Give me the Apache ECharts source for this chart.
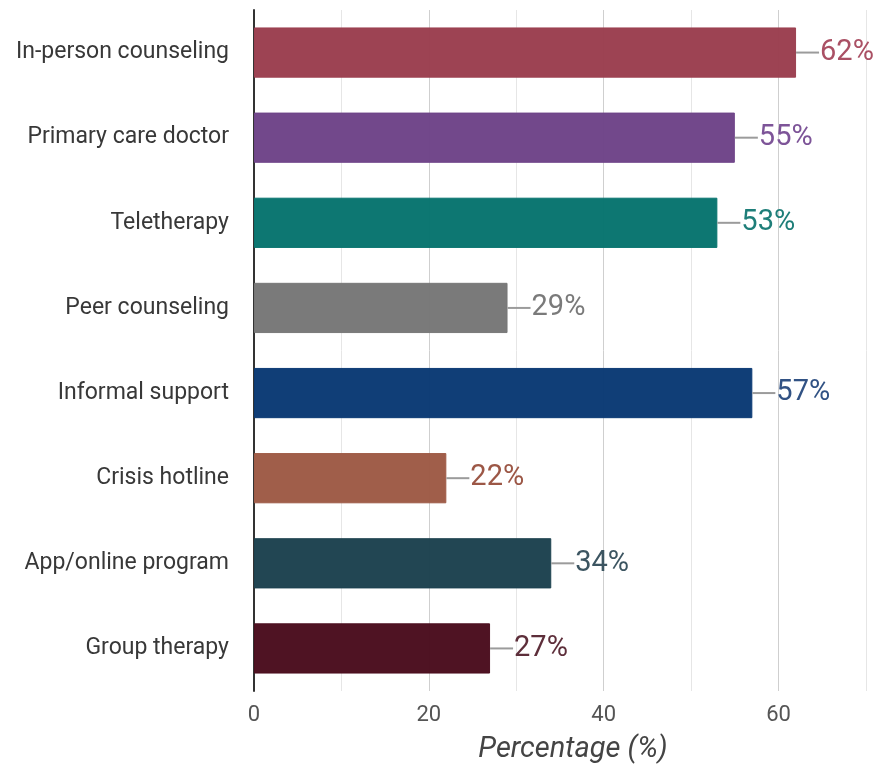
<!DOCTYPE html>
<html>
<head>
<meta charset="utf-8">
<script src="https://cdn.jsdelivr.net/npm/echarts@6/dist/echarts.min.js"></script>
<style>
  html, body { margin: 0; padding: 0; background: #fff; }
  #main { width: 886px; height: 769px; }
</style>
</head>
<body>
<div id="main"></div>
<script>
const categories = ['In-person counseling', 'Primary care doctor', 'Teletherapy', 'Peer counseling',
  'Informal support', 'Crisis hotline', 'App/online program', 'Group therapy']
const values = [62, 55, 53, 29, 57, 22, 34, 27]
const barColors = ['#9b3f50', '#6f4489', '#08746f', '#777777', '#0b3a74', '#9e5b46', '#1e4250', '#4b0e1f']
const labelColors = ['#a84d61', '#7a5196', '#1a7b76', '#777777', '#2d4f82', '#9a5442', '#38525e', '#5a2a36']

const chart = echarts.init(document.getElementById('main'))

const option = {
  animation: false,
  textStyle: { fontFamily: 'Roboto' },
  grid: { left: 254, right: 20, top: 10, bottom: 76 },
  xAxis: {
    type: 'value',
    min: 0,
    max: 70,
    interval: 10,
    name: 'Percentage (%)',
    nameLocation: 'middle',
    nameGap: 44,
    nameTextStyle: { fontSize: 29, fontStyle: 'italic', color: '#444', fontFamily: 'Roboto', padding: [0, 0, 0, 26] },
    axisLine: { show: false },
    axisTick: { show: false },
    axisLabel: {
      fontSize: 22,
      color: '#555',
      margin: 13,
      fontFamily: 'Roboto',
      formatter: v => (v % 20 === 0 && v < 70 ? String(v) : '')
    },
    splitLine: {
      show: true,
      lineStyle: { color: ['#cfcfcf', '#e6e6e6'], width: 1 }
    }
  },
  yAxis: {
    type: 'category',
    data: categories,
    inverse: true,
    axisLine: { show: true, lineStyle: { color: '#333', width: 2 } },
    axisTick: { show: false },
    axisLabel: { fontSize: 23, color: '#383838', margin: 25, fontFamily: 'Roboto' }
  },
  series: [{
    type: 'bar',
    barCategoryGap: '41%',
    data: values.map((v, i) => ({
      value: v,
      itemStyle: { color: barColors[i], borderColor: barColors[i], borderWidth: 1, opacity: 0.98 },
      label: { rich: { v: { color: labelColors[i] } } }
    })),
    label: {
      show: true,
      position: 'right',
      distance: 0,
      formatter: p => '{l|}{v|' + p.value + '%}',
      rich: {
        l: { width: 23, height: 2, backgroundColor: '#999' },
        v: { fontSize: 29, fontFamily: 'Roboto', padding: [0, 0, 0, 1] }
      }
    }
  }]
}

chart.setOption(option)
window.addEventListener('resize', () => {
  chart.resize()
})
</script>
</body>
</html>
